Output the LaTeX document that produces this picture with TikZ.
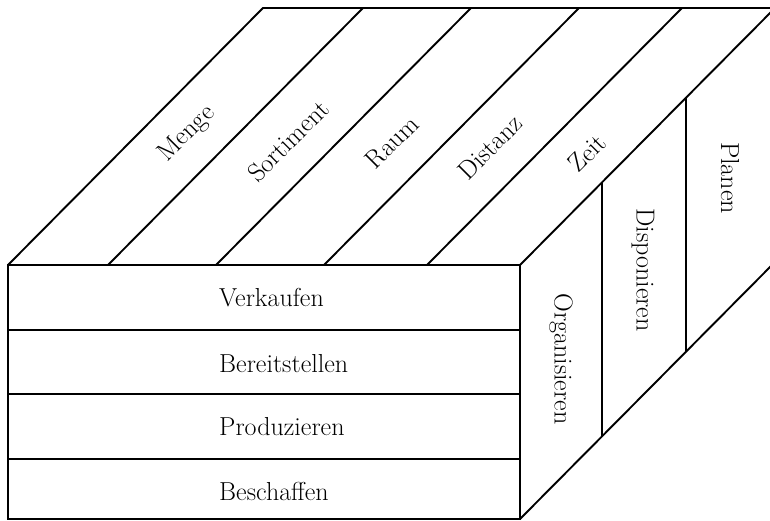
\documentclass[tikz,border=0pt]{standalone}
\usepackage{fontspec}
\usetikzlibrary{positioning, calc}

\begin{document}
\begin{tikzpicture}[x=1pt, y=-1pt,
  edge/.style={line width=1.9pt, line join=miter},
  rowtext/.style={anchor=base west, inner sep=0pt, font=\fontsize{26}{30}\selectfont},
  toptext/.style={rotate=45, inner sep=0pt, font=\fontsize{26}{30}\selectfont},
  sidetext/.style={rotate=-90, inner sep=0pt, font=\fontsize{26}{30}\selectfont}]
  \useasboundingbox (0,0) rectangle (770,521);
  \clip (0,0) rectangle (770,521);

  % corners of the block
  \coordinate (ftl) at (8,265);
  \coordinate (ftr) at (520,265);
  \coordinate (fbr) at (520,519);
  \coordinate (fbl) at (8,519);
  \coordinate (btl) at (263,8);
  \coordinate (btr) at (775,8);
  \coordinate (bbr) at (775,262);

  % outline
  \draw[edge] (fbl) -- (ftl) -- (ftr) -- (fbr) -- cycle;
  \draw[edge] (ftl) -- (btl) -- (btr) -- (ftr);
  \draw[edge] (btr) -- (bbr) -- (fbr);

  % rows, strips
  \foreach \y in {330,394,459} \draw[edge] (8,\y) -- (520,\y);
  \foreach \x in {108,216,324,427} \draw[edge] (\x,265) -- ++(255,-257);
  \draw[edge] (602,182) -- (602,437);
  \draw[edge] (686,98) -- (686,352);

  % front
  \node[rowtext] (verkaufen) at (219,306) {Verkaufen};
  \node[rowtext] (bereitstellen) at (219,372) {Bereitstellen};
  \node[rowtext] (produzieren) at (219,435) {Produzieren};
  \node[rowtext] (beschaffen) at (219,500) {Beschaffen};

  % top
  \node[toptext] (menge) at (187,134) {Menge};
  \node[toptext] (sortiment) at (288,141) {Sortiment};
  \node[toptext] (raum) at (392,142) {Raum};
  \node[toptext] (distanz) at (490,147) {Distanz};
  \node[toptext] (zeit) at (587,153) {Zeit};

  % side
  \node[sidetext] (organisieren) at (561,359) {Organisieren};
  \node[sidetext] (disponieren) at (643,270) {Disponieren};
  \node[sidetext] (planen) at (730,178) {Planen};
\end{tikzpicture}
\end{document}
